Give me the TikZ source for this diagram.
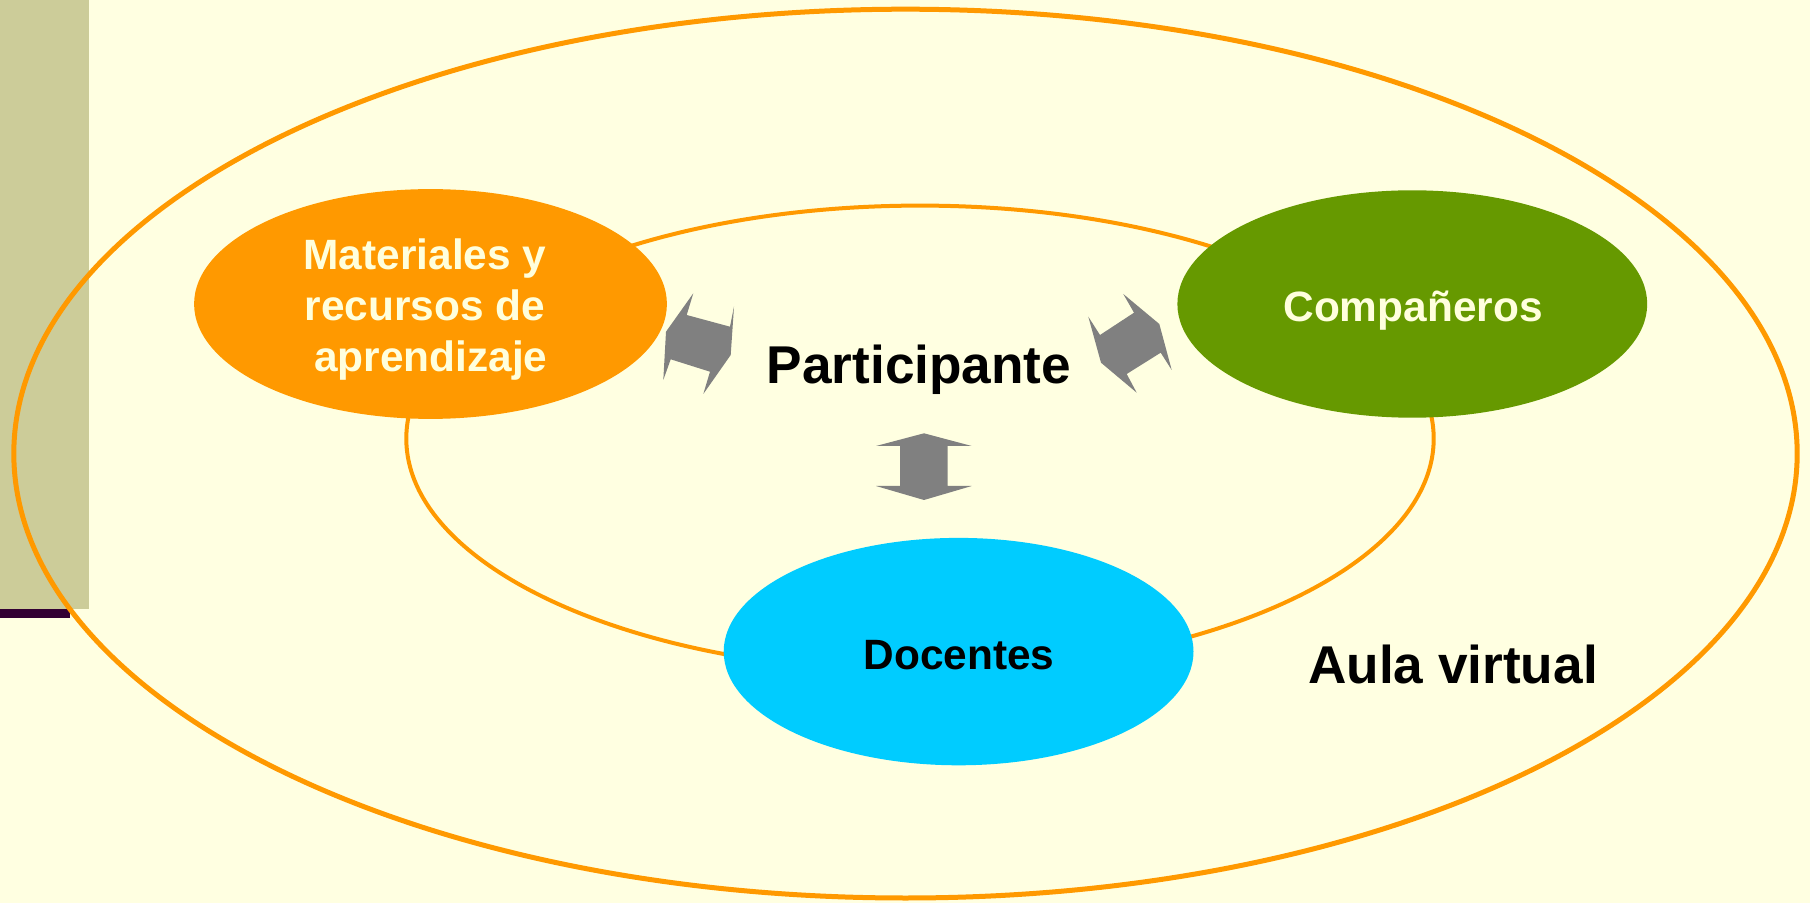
\documentclass[tikz,border=0pt]{standalone}
\usepackage{fontspec}
\setmainfont{Liberation Sans}
\usetikzlibrary{shapes.geometric}
\definecolor{bgcol}{HTML}{FFFFE1}
\definecolor{stripcol}{HTML}{CCCC99}
\definecolor{darkline}{HTML}{330033}
\definecolor{ringcol}{HTML}{FF9900}
\definecolor{matcol}{HTML}{FF9900}
\definecolor{compcol}{HTML}{669900}
\definecolor{doccol}{HTML}{00CCFF}
\definecolor{creamtext}{HTML}{FFFFDD}
\definecolor{arrowgray}{HTML}{808080}
\tikzset{
  blob/.style={ellipse, inner sep=0pt, draw=none},
  nodetext/.style={font=\bfseries\fontsize{21.2}{25.5}\selectfont, align=center, inner sep=0pt},
  bigtext/.style={font=\bfseries\fontsize{26.6}{30}\selectfont, inner sep=0pt, text=black},
  blockarrow/.style={fill=arrowgray, draw=none},
}
\begin{document}
\begin{tikzpicture}[x=0.5pt,y=-0.5pt]
\useasboundingbox (0,0) rectangle (1810,903);
\fill[bgcol] (0,0) rectangle (1810,903);
% left strip
\fill[stripcol] (0,0) rectangle (89,609);
\fill[darkline] (0,609) rectangle (70,618);
% rings
\draw[ringcol, line width=2.5pt] (905.5,453.6) ellipse [x radius=891.7, y radius=444.4];
\draw[ringcol, line width=2pt] (920,438.6) ellipse [x radius=513.7, y radius=233];
% ellipses
\node[blob, fill=matcol, minimum width=236.4pt, minimum height=114.9pt] (mat) at (430.5,304) {};
\node[nodetext, text=creamtext] (mattext) at (425,310) {Materiales y\\recursos de\\~aprendizaje};
\node[blob, fill=compcol, minimum width=234.9pt, minimum height=113.7pt] (comp) at (1412.3,304) {};
\node[nodetext, text=creamtext] (comptext) at (1413,311) {Compañeros};
\node[blob, fill=doccol, minimum width=234.9pt, minimum height=113.7pt] (doc) at (958.6,651.6) {};
\node[nodetext, text=black] (doctext) at (959,655) {Docentes};
% labels
\node[bigtext, anchor=base] (part) at (919,384) {Participante};
\node[bigtext, anchor=base] (aula) at (1453,683) {Aula virtual};
% block arrows
\fill[blockarrow] (666,331.7) -- (693.3,293.3) -- (686.7,315) -- (730,326.7) -- (734,306.7)
  -- (730.7,355) -- (703.3,394) -- (710,371.7) -- (670.7,359.3) -- (663.3,380) -- cycle;
\fill[blockarrow] (1088.3,316.7) -- (1100,335) -- (1134,312.7) -- (1123.3,294) -- (1159.3,324)
  -- (1171.7,370) -- (1160.7,352.7) -- (1126.7,374) -- (1136.7,392.7) -- (1101,362.7) -- cycle;
\fill[blockarrow] (924,433.3) -- (971.7,446) -- (947.7,446) -- (947.7,486) -- (971.7,486)
  -- (924,500) -- (876,486) -- (900,486) -- (900,446) -- (876,446) -- cycle;
\end{tikzpicture}
\end{document}
